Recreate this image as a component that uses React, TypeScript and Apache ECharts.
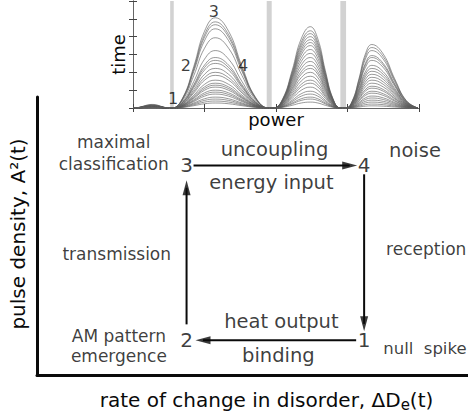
import React, { useEffect, useRef } from "react";
import * as echarts from "echarts";

// ---- Inset: pulse traces (power vs time) ----
// Peak height of every trace inside each of the four pulse windows (time units)
const restPeaks = [0.18, 0.15, 0.2, 0.12, 0.16, 0.1, 0.14, 0.12, 0.09, 0.11, 0.08, 0.1, 0.07, 0.09, 0.06, 0.08, 0.05, 0.07, 0.05, 0.04, 0.05, 0.03, 0.03];
const firstPeaks = [5.06, 4.83, 4.67, 4.44, 3.94, 3.22, 2.83, 2.67, 2.5, 2.22, 2.0, 1.83, 1.56, 1.39, 1.28, 1.17, 1.0, 0.89, 0.78, 0.61, 0.5, 0.39, 0.28];
const secondPeaks = [4.56, 4.33, 4.17, 4.0, 3.83, 3.67, 3.5, 3.28, 3.06, 2.83, 2.61, 2.39, 2.22, 2.0, 1.78, 1.56, 1.39, 1.17, 0.94, 0.78, 0.61, 0.5, 0.33];
const thirdPeaks = [3.56, 3.39, 3.22, 2.94, 2.83, 2.67, 2.39, 2.22, 2.06, 1.89, 1.72, 1.56, 1.39, 1.22, 1.11, 0.94, 0.83, 0.67, 0.56, 0.44, 0.33, 0.22, 0.12];

// Pulse windows along the power axis: [start, peak, end]
const pulseWindows = [
  [0, 0.27, 0.52],
  [0.55, 1.15, 1.9],
  [1.97, 2.48, 2.9],
  [2.98, 3.34, 3.98],
];
// Shape of one pulse, sampled at quarter steps of its half width
const profileSteps = [-1, -0.75, -0.5, -0.25, 0, 0.25, 0.5, 0.75, 1];
const profileValues = [0, 0.12, 0.46, 0.85, 1, 0.85, 0.46, 0.12, 0];

// Shaded separators between pulse windows (power units)
const separatorBands = [
  [0.52, 0.57],
  [1.87, 1.94],
  [2.9, 2.98],
];

// Phase markers on the first pulse
const pulsePhases = ["1", "2", "3", "4"];
const pulsePhasePower = [0.56, 0.74, 1.13, 1.54];
const pulsePhaseTime = [0.56, 2.39, 5.4, 2.39];

// ---- Main cycle diagram ----
const stageNames = ["1", "2", "3", "4"];
const stageDisorder = [7.59, 3.47, 3.47, 7.59];
const stageDensity = [1.25, 1.25, 7.54, 7.54];
// Transitions of the cycle: [from stage index, to stage index]
const transitions = [
  [2, 3],
  [3, 0],
  [0, 1],
  [1, 2],
];

// ---- layout ----
const W = 468;
const H = 417;
const MAIN = { left: 36, top: 97, right: 0, bottom: 40 };
const MAIN_W = W - MAIN.left - MAIN.right;
const MAIN_H = H - MAIN.top - MAIN.bottom;
const X_MAX = 10;
const Y_MAX = 10;
const xPerPx = X_MAX / MAIN_W;
const yPerPx = Y_MAX / MAIN_H;
// pixel gaps left open at the start and at the tip of each transition arrow
const arrowGaps = [
  [7, 7],
  [9, 9],
  [8, 9],
  [16, 15],
];
const HEAD_LEN = 15;
const HEAD_W = 8;

const FONT = "DejaVu Sans";
const INK = "#0a0a0a";

// Captions placed on the diagram (data coordinates of the main grid)
const captions = [
  { text: "maximal\nclassification", at: [1.78, 8.0], size: 17, lh: 22 },
  { text: "transmission", at: [1.85, 4.36], size: 17, lh: 20 },
  { text: "AM pattern\nemergence", at: [1.9, 1.04], size: 17, lh: 20 },
  { text: "uncoupling", at: [5.51, 8.11], size: 19.5, lh: 22 },
  { text: "energy input", at: [5.44, 6.93], size: 19.5, lh: 22 },
  { text: "noise", at: [8.77, 8.07], size: 19.5, lh: 22 },
  { text: "reception", at: [9.03, 4.54], size: 17, lh: 20 },
  { text: "heat output", at: [5.67, 1.93], size: 19.5, lh: 22 },
  { text: "binding", at: [5.6, 0.71], size: 19.5, lh: 22 },
  { text: "null  spike", at: [9.0, 0.96], size: 16.5, lh: 20 },
];

function tracePoints(i: number): number[][] {
  const peakSets = [restPeaks, firstPeaks, secondPeaks, thirdPeaks];
  const pts: number[][] = [];
  pulseWindows.forEach(([s, p, e], w) => {
    const amp = peakSets[w][i];
    profileSteps.forEach((t, k) => {
      const x = t < 0 ? p + t * (p - s) : p + t * (e - p);
      pts.push([x, amp * profileValues[k]]);
    });
  });
  return pts;
}

function buildOption(): echarts.EChartsCoreOption {
  const series: any[] = [];

  // inset traces
  firstPeaks.forEach((_, i) => {
    series.push({
      type: "line",
      xAxisIndex: 1,
      yAxisIndex: 1,
      data: tracePoints(i),
      smooth: 0.45,
      showSymbol: false,
      symbol: "none",
      silent: true,
      lineStyle: { color: "#5e5e5e", width: 0.8, opacity: 0.8 },
      z: 3,
      markArea:
        i === 0
          ? {
              silent: true,
              itemStyle: { color: "#d2d2d2" },
              data: separatorBands.map(([a, b]) => [{ xAxis: a }, { xAxis: b }]),
            }
          : undefined,
    });
  });

  // inset phase labels
  series.push({
    type: "scatter",
    xAxisIndex: 1,
    yAxisIndex: 1,
    symbolSize: 0.1,
    itemStyle: { color: "transparent" },
    silent: true,
    z: 5,
    data: pulsePhases.map((n, i) => ({ value: [pulsePhasePower[i], pulsePhaseTime[i]], name: n })),
    label: {
      show: true,
      position: "inside",
      formatter: (p: any) => p.name,
      fontFamily: FONT,
      fontSize: 16,
      color: INK,
    },
  });

  // transition arrows
  const heads: any[] = [];
  transitions.forEach(([a, b], k) => {
    const fx = stageDisorder[a];
    const fy = stageDensity[a];
    const tx = stageDisorder[b];
    const ty = stageDensity[b];
    const dxPx = (tx - fx) / xPerPx;
    const dyPx = (ty - fy) / yPerPx;
    const len = Math.hypot(dxPx, dyPx);
    const ux = dxPx / len;
    const uy = dyPx / len;
    const [g0, g1] = arrowGaps[k];
    const start = [fx + ux * g0 * xPerPx, fy + uy * g0 * yPerPx];
    const tip = [tx - ux * g1 * xPerPx, ty - uy * g1 * yPerPx];
    const head = [tip[0] - ux * (HEAD_LEN / 2) * xPerPx, tip[1] - uy * (HEAD_LEN / 2) * yPerPx];
    series.push({
      type: "line",
      xAxisIndex: 0,
      yAxisIndex: 0,
      data: [start, head],
      showSymbol: false,
      symbol: "none",
      silent: true,
      lineStyle: { color: INK, width: 2 },
      z: 3,
    });
    const angle = (Math.atan2(uy, ux) * 180) / Math.PI;
    heads.push({ value: head, symbolRotate: angle - 90 });
  });
  series.push({
    type: "scatter",
    xAxisIndex: 0,
    yAxisIndex: 0,
    symbol: "triangle",
    symbolSize: [HEAD_W, HEAD_LEN],
    itemStyle: { color: INK },
    silent: true,
    z: 4,
    data: heads,
  });

  // stage numbers
  series.push({
    type: "scatter",
    xAxisIndex: 0,
    yAxisIndex: 0,
    symbolSize: 0.1,
    itemStyle: { color: "transparent" },
    silent: true,
    z: 5,
    data: stageNames.map((n, i) => ({ value: [stageDisorder[i], stageDensity[i]], name: n })),
    label: {
      show: true,
      position: "inside",
      formatter: (p: any) => p.name,
      fontFamily: FONT,
      fontSize: 20,
      color: INK,
    },
  });

  // captions
  series.push({
    type: "scatter",
    xAxisIndex: 0,
    yAxisIndex: 0,
    symbolSize: 0.1,
    itemStyle: { color: "transparent" },
    silent: true,
    z: 5,
    data: captions.map((c) => ({
      value: c.at,
      label: {
        show: true,
        position: "inside",
        formatter: c.text,
        fontFamily: FONT,
        fontSize: c.size,
        lineHeight: c.lh,
        color: INK,
        align: "center",
        verticalAlign: "middle",
      },
    })),
  });

  const insetAxisLine = { show: true, lineStyle: { color: "#666", width: 1 } };
  const insetTick = { show: true, inside: true, length: 4, lineStyle: { color: "#444", width: 1 } };

  return {
    animation: false,
    backgroundColor: "#fff",
    textStyle: { fontFamily: FONT },
    grid: [
      { left: MAIN.left, top: MAIN.top, right: MAIN.right, bottom: MAIN.bottom },
      { left: 133, top: 1, width: 286, height: 107 },
    ],
    xAxis: [
      {
        type: "value",
        gridIndex: 0,
        min: 0,
        max: X_MAX,
        axisLine: { show: true, lineStyle: { color: INK, width: 3 } },
        axisTick: { show: false },
        axisLabel: { show: false },
        splitLine: { show: false },
        name: "rate of change in disorder, {d|ΔD}{sub|e}{d|(t)}",
        nameLocation: "middle",
        nameGap: 13,
        nameTextStyle: {
          fontFamily: FONT,
          fontSize: 20,
          color: INK,
          padding: [0, 0, 0, 28],
          rich: {
            d: { fontFamily: FONT, fontSize: 20, color: INK },
            sub: { fontFamily: FONT, fontSize: 15, color: INK, padding: [9, 0, 0, 0] },
          },
        },
      },
      {
        type: "value",
        gridIndex: 1,
        min: 0,
        max: 4,
        interval: 1,
        position: "bottom",
        axisLine: insetAxisLine,
        axisTick: insetTick,
        axisLabel: { show: false },
        splitLine: { show: false },
        name: "power",
        nameLocation: "middle",
        nameGap: 2,
        nameTextStyle: { fontFamily: FONT, fontSize: 18, color: INK, verticalAlign: "top" },
      },
      {
        type: "value",
        gridIndex: 1,
        min: 0,
        max: 4,
        interval: 1,
        position: "top",
        axisLine: insetAxisLine,
        axisTick: insetTick,
        axisLabel: { show: false },
        splitLine: { show: false },
      },
    ],
    yAxis: [
      {
        type: "value",
        gridIndex: 0,
        min: 0,
        max: Y_MAX,
        axisLine: { show: true, lineStyle: { color: INK, width: 3 } },
        axisTick: { show: false },
        axisLabel: { show: false },
        splitLine: { show: false },
        name: "pulse density, A²(t)",
        nameLocation: "middle",
        nameRotate: 90,
        nameGap: 9,
        nameTextStyle: { fontFamily: FONT, fontSize: 20, color: INK, padding: [0, 0, 0, 4] },
      },
      {
        type: "value",
        gridIndex: 1,
        min: 0,
        max: 6,
        interval: 1,
        position: "left",
        axisLine: insetAxisLine,
        axisTick: insetTick,
        axisLabel: { show: false },
        splitLine: { show: false },
        name: "time",
        nameLocation: "middle",
        nameRotate: 90,
        nameGap: 6,
        nameTextStyle: { fontFamily: FONT, fontSize: 18, color: INK },
      },
      {
        type: "value",
        gridIndex: 1,
        min: 0,
        max: 6,
        interval: 1,
        position: "right",
        axisLine: insetAxisLine,
        axisTick: insetTick,
        axisLabel: { show: false },
        splitLine: { show: false },
      },
    ],
    series,
  };
}

export default function App() {
  const ref = useRef<HTMLDivElement>(null);
  useEffect(() => {
    document.body.style.margin = "0";
    if (!ref.current) return;
    const chart = echarts.init(ref.current, undefined, { renderer: "svg" });
    chart.setOption(buildOption());
    return () => chart.dispose();
  }, []);
  return <div ref={ref} style={{ width: W, height: H }} />;
}
